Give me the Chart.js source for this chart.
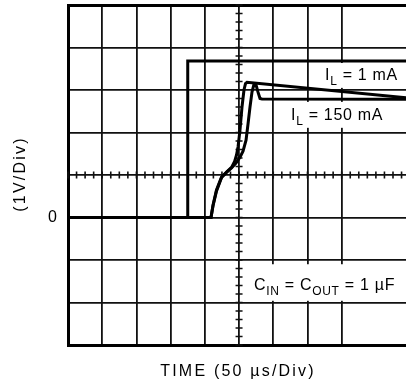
<!DOCTYPE html>
<html>
<head>
<meta charset="utf-8">
<script src="https://cdn.jsdelivr.net/npm/chart.js@4/dist/chart.umd.min.js"></script>
<style>
html,body{margin:0;padding:0;background:#fff;overflow:hidden;}
canvas{display:block;}
</style>
</head>
<body>
<canvas id="c" width="406" height="383"></canvas>
<script>
// ---- data (time in µs, 50 µs/div; voltage in V, 1 V/div) ----
const vinTime = [0, 175, 175, 494];
const vinVolt = [0, 0, 3.68, 3.68];

const out1mATime = [0, 209, 211.9, 217, 224.4, 231.7, 239, 243.3, 246.3, 248.5, 251.4, 254.3, 257.2, 259.4, 261.6, 494];
const out1mAVolt = [0, 0, 0.29, 0.65, 0.95, 1.07, 1.18, 1.31, 1.47, 1.66, 2.06, 2.60, 3.00, 3.15, 3.18, 2.82];

const out150mATime = [0, 209, 211.9, 217, 224.4, 231.7, 239, 245.5, 251.4, 255.8, 260.2, 263.1, 266, 268.9, 271.9, 274.8, 277.7, 280.6, 283.5, 494];
const out150mAVolt = [0, 0, 0.27, 0.62, 0.94, 1.06, 1.165, 1.28, 1.42, 1.56, 1.82, 2.2, 2.6, 2.95, 3.14, 3.12, 2.95, 2.8, 2.79, 2.78];

const yTickValues = [-3, -2, -1, 0, 1, 2, 3, 4, 5];
const yTickLabels = ['', '', '', '0', '', '', '', '', ''];

const xTitle = 'TIME (50 \u00B5s/Div)';
const yTitle = '(1V/Div)';

// annotation texts: segments [text, isSubscript]
const noteTexts = [
  [['I', false], ['L', true], [' = 1 mA', false]],
  [['I', false], ['L', true], [' = 150 mA', false]],
  [['C', false], ['IN', true], [' = C', false], ['OUT', true], [' = 1 \u00B5F', false]]
];
// ---- end data ----

const toPts = (xs, ys) => xs.map((x, i) => ({x: x, y: ys[i]}));

// layout of annotations (data coordinates)
const noteAnchors = [ {x: 375.6, y: 3.235}, {x: 325.9, y: 2.294}, {x: 271.8, y: -1.706} ];
const noteBoxes = [
  {x0: 365, x1: 488, y0: 3.635, y1: 3.05},
  {x0: 315, x1: 482, y0: 2.72, y1: 2.11},
  {x0: 263, x1: 490, y0: -1.10, y1: -1.96}
];

const FONT = '"Liberation Sans", Arial, sans-serif';

function drawSegments(ctx, segs, x, y, size) {
  let cx = x;
  ctx.textBaseline = 'alphabetic';
  ctx.textAlign = 'left';
  ctx.letterSpacing = '0.7px';
  for (const [t, sub] of segs) {
    ctx.font = (sub ? Math.round(size * 0.75) : size) + 'px ' + FONT;
    ctx.fillText(t, cx, sub ? y + 5 : y);
    cx += ctx.measureText(t).width;
  }
}

const scopePlugin = {
  id: 'scope',
  beforeDatasetsDraw(chart) {
    const {ctx, chartArea: a, scales: {x, y}} = chart;
    ctx.save();
    // center cross minor ticks
    ctx.strokeStyle = '#111';
    ctx.lineWidth = 1.6;
    const cy = y.getPixelForValue(1);
    const cx = x.getPixelForValue(250);
    ctx.beginPath();
    for (let t = 0; t <= 494; t += 12.5) {
      const px = x.getPixelForValue(t);
      ctx.moveTo(px, cy - 3.5); ctx.lineTo(px, cy + 3.5);
    }
    for (let v = -3; v <= 5.001; v += 0.2) {
      const py = y.getPixelForValue(v);
      ctx.moveTo(cx - 3.5, py); ctx.lineTo(cx + 3.5, py);
    }
    ctx.stroke();
    // white label boxes
    ctx.fillStyle = '#fff';
    for (const b of noteBoxes) {
      const x0 = x.getPixelForValue(b.x0), x1 = x.getPixelForValue(b.x1);
      const y0 = y.getPixelForValue(b.y0), y1 = y.getPixelForValue(b.y1);
      ctx.fillRect(x0, y0, x1 - x0, y1 - y0);
    }
    // label texts
    ctx.fillStyle = '#000';
    noteTexts.forEach((segs, i) => {
      drawSegments(ctx, segs, x.getPixelForValue(noteAnchors[i].x), y.getPixelForValue(noteAnchors[i].y), 16);
    });
    ctx.restore();
  },
  afterDraw(chart) {
    const {ctx, chartArea: a} = chart;
    ctx.save();
    ctx.fillStyle = '#000';
    ctx.font = '16px ' + FONT;
    ctx.letterSpacing = '2.2px';
    ctx.textAlign = 'center';
    ctx.textBaseline = 'middle';
    ctx.fillText(xTitle, (a.left + a.right) / 2 + 1, 372);
    ctx.translate(21, (a.top + a.bottom) / 2);
    ctx.rotate(-Math.PI / 2);
    ctx.fillText(yTitle, 1, 0);
    ctx.restore();
  }
};

const lineStyle = {borderColor: '#000', borderWidth: 3, pointRadius: 0, tension: 0, fill: false};

new Chart(document.getElementById('c'), {
  type: 'line',
  data: {
    datasets: [
      Object.assign({label: 'VIN', data: toPts(vinTime, vinVolt)}, lineStyle),
      Object.assign({label: 'IL = 1 mA', data: toPts(out1mATime, out1mAVolt)}, lineStyle),
      Object.assign({label: 'IL = 150 mA', data: toPts(out150mATime, out150mAVolt)}, lineStyle)
    ]
  },
  options: {
    responsive: false,
    animation: false,
    layout: {padding: {top: 5, right: 0, left: 0, bottom: 0}},
    plugins: {legend: {display: false}, tooltip: {enabled: false}},
    scales: {
      x: {
        type: 'linear', min: 0, max: 494,
        ticks: {display: false, stepSize: 50},
        grid: {
          drawTicks: false,
          color: c => (c.tick && Math.abs(c.tick.value % 50) < 0.01) ? '#111' : 'rgba(0,0,0,0)',
          lineWidth: 1.8
        },
        border: {display: true, color: '#000', width: 3},
        afterFit: s => { s.height = 38; s.paddingLeft = 0; s.paddingRight = 0; }
      },
      y: {
        type: 'linear', min: -3, max: 5,
        afterBuildTicks: s => { s.ticks = yTickValues.map(v => ({value: v})); },
        ticks: {
          stepSize: 1, color: '#000', padding: 11,
          font: {size: 16, family: FONT},
          callback: v => yTickLabels[yTickValues.indexOf(v)]
        },
        grid: {
          drawTicks: false,
          color: c => (c.tick && c.tick.value === 5) ? '#000' : '#111',
          lineWidth: c => (c.tick && c.tick.value === 5) ? 3 : 1.8
        },
        border: {display: true, color: '#000', width: 3},
        afterFit: s => { s.width = 68; s.paddingTop = 0; s.paddingBottom = 0; }
      }
    }
  },
  plugins: [scopePlugin]
});
</script>
</body>
</html>
